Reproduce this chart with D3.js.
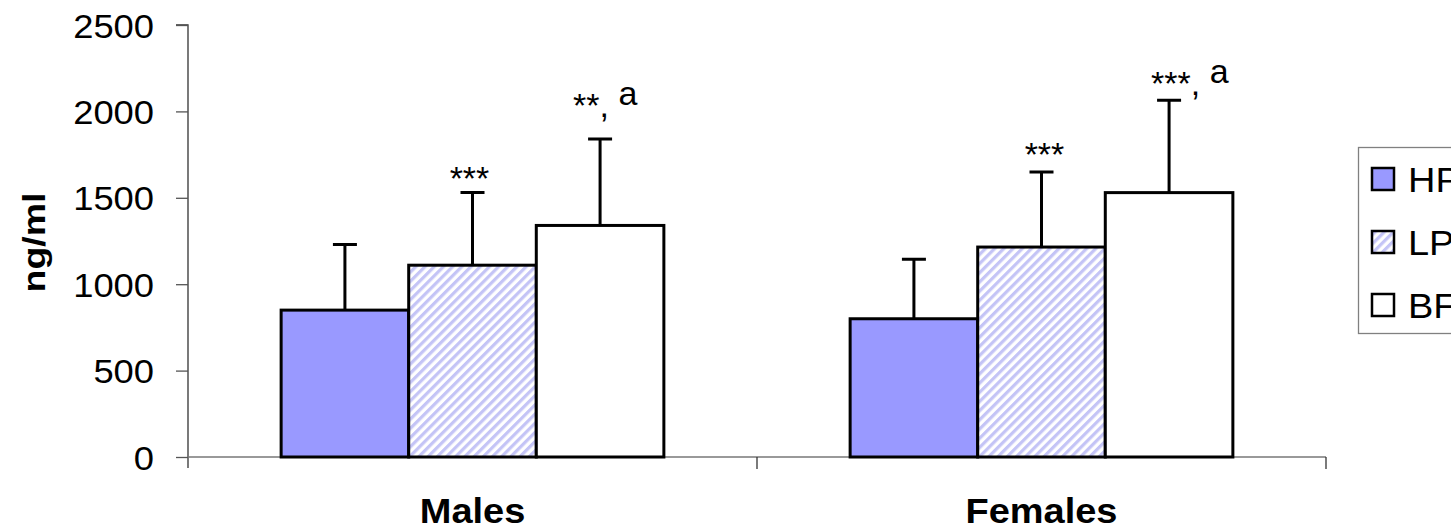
<!DOCTYPE html>
<html>
<head>
<meta charset="utf-8">
<script src="https://cdn.jsdelivr.net/npm/d3@7"></script>
<style>
  html, body { margin: 0; padding: 0; background: #fff; }
  svg { display: block; font-family: "Liberation Sans", Arial, sans-serif; }
</style>
</head>
<body>
<svg id="chart" width="1451" height="531"></svg>
<script>
// Plasma concentration (ng/ml) by sex and diet group, mean + SD
const categories = ["Males", "Females"];
const series = ["HP", "LP", "BF"];
const hpMean = [850, 800];
const lpMean = [1110, 1215];
const bfMean = [1340, 1530];
const hpSD = [380, 345];
const lpSD = [420, 435];
const bfSD = [500, 535];
const yTicks = [0, 500, 1000, 1500, 2000, 2500];
// significance marks: [category][series]
const marksMales = ["", "***", "**, a"];
const marksFemales = ["", "***", "***, a"];

const means = [hpMean, lpMean, bfMean];
const sds = [hpSD, lpSD, bfSD];
const marks = [marksMales, marksFemales];

const svg = d3.select("#chart");
const plotLeft = 188, plotRight = 1326, plotTop = 25, plotBottom = 457;
const SX = 1.085; // slightly wide lettering

const x0 = d3.scaleBand().domain(categories).range([plotLeft, plotRight]).padding(0);
const x1 = d3.scaleBand().domain(series).range([0, x0.bandwidth()])
  .paddingInner(0).paddingOuter(0.73);
const y = d3.scaleLinear().domain([0, 2500]).range([plotBottom, plotTop]);

// diagonal hatching for LP
const defs = svg.append("defs");
defs.append("pattern")
  .attr("id", "hatch")
  .attr("patternUnits", "userSpaceOnUse")
  .attr("width", 6.5).attr("height", 6.5)
  .attr("patternTransform", "rotate(45)")
  .call(p => {
    p.append("rect").attr("width", 6.5).attr("height", 6.5).attr("fill", "#fff");
    p.append("rect").attr("width", 3.2).attr("height", 6.5).attr("fill", "#c4c4f6");
  });

const fills = { HP: "#9999ff", LP: "url(#hatch)", BF: "#ffffff" };

// axes
const yAxis = d3.axisLeft(y).tickValues(yTicks).tickFormat(d3.format("d"))
  .tickSize(12).tickPadding(22);
const gy = svg.append("g").attr("transform", `translate(${plotLeft},0)`).call(yAxis);
gy.select(".domain").attr("stroke", "#333").attr("stroke-width", 1.3)
  .attr("d", `M-12,${plotTop}H0V${plotBottom + 11}`);
gy.selectAll(".tick line").attr("stroke", "#555").attr("stroke-width", 1.3);
gy.selectAll(".tick text")
  .attr("font-size", 33.5).attr("fill", "#000")
  .attr("font-family", "Liberation Sans, Arial, sans-serif")
  .attr("dy", "0.36em")
  .attr("x", -34 / SX)
  .attr("transform", `scale(${SX},1)`);

const gx = svg.append("g").attr("transform", `translate(0,${plotBottom})`);
gx.append("line").attr("x1", plotLeft).attr("x2", plotRight).attr("stroke", "#777").attr("stroke-width", 1.3);
const edges = categories.map(c => x0(c) + x0.bandwidth());
gx.selectAll("line.edge").data(edges).join("line").attr("class", "edge")
  .attr("x1", d => d).attr("x2", d => d).attr("y1", 0).attr("y2", 12)
  .attr("stroke", "#333").attr("stroke-width", 1.3);
gx.selectAll("text").data(categories).join("text")
  .attr("transform", d => `translate(${x0(d) + x0.bandwidth() / 2},66) scale(${SX},1)`)
  .attr("text-anchor", "middle")
  .attr("font-size", 35).attr("font-weight", "bold")
  .text(d => d);

// y title
svg.append("text")
  .attr("transform", `translate(45,242.5) rotate(-90)`)
  .attr("text-anchor", "middle")
  .attr("font-size", 31).attr("font-weight", "bold")
  .attr("textLength", 100).attr("lengthAdjust", "spacingAndGlyphs")
  .text("ng/ml");

// bars
const rows = [];
categories.forEach((c, ci) => series.forEach((s, si) => rows.push({
  c, s, v: means[si][ci], sd: sds[si][ci], mark: marks[ci][si]
})));

const groups = svg.append("g");
const cap = 12;
// error bars drawn first so the bar outline sits on top
groups.selectAll("path.err").data(rows).join("path").attr("class", "err")
  .attr("d", d => {
    const cx = x0(d.c) + x1(d.s) + x1.bandwidth() / 2;
    return `M${cx},${y(d.v)}V${y(d.v + d.sd)}M${cx - cap},${y(d.v + d.sd)}H${cx + cap}`;
  })
  .attr("stroke", "#000").attr("stroke-width", 3).attr("fill", "none");

groups.selectAll("rect.bar").data(rows).join("rect").attr("class", "bar")
  .attr("x", d => x0(d.c) + x1(d.s))
  .attr("y", d => y(d.v))
  .attr("width", x1.bandwidth())
  .attr("height", d => y(0) - y(d.v))
  .attr("fill", d => fills[d.s])
  .attr("stroke", "#000").attr("stroke-width", 3);

// significance labels, placed relative to the top of each error bar
const markOffset = {
  "Males-LP": [-3, -3, "middle"],
  "Females-LP": [3, -6, "middle"],
  "Males-BF": [-27, -22, "start"],
  "Females-BF": [-18, -5, "start"]
};
rows.filter(d => d.mark).forEach(d => {
  const [dx, dy, anchor] = markOffset[`${d.c}-${d.s}`];
  const cx = x0(d.c) + x1(d.s) + x1.bandwidth() / 2;
  const t = svg.append("text")
    .attr("x", cx + dx).attr("y", y(d.v + d.sd) + dy)
    .attr("text-anchor", anchor)
    .attr("font-size", 34);
  const parts = d.mark.split(", ");
  t.append("tspan").text(parts[0] + (parts.length > 1 ? "," : ""));
  if (parts.length > 1) {
    t.append("tspan").attr("dy", -12).text("\u00a0" + parts[1]);
  }
});

// legend (frame runs past the right edge of the page)
const lg = svg.append("g");
lg.append("rect").attr("x", 1358.5).attr("y", 147.5).attr("width", 120).attr("height", 186)
  .attr("fill", "#fff").attr("stroke", "#808080").attr("stroke-width", 1.3);
const item = lg.selectAll("g.item").data(series).join("g").attr("class", "item")
  .attr("transform", (d, i) => `translate(1372,${179 + i * 63})`);
item.append("rect").attr("x", 0).attr("y", -11).attr("width", 22).attr("height", 22)
  .attr("fill", d => d === "LP" ? "url(#hatch)" : fills[d])
  .attr("stroke", "#000").attr("stroke-width", 2.5);
item.append("text")
  .attr("transform", `translate(36,12.5) scale(${SX},1)`)
  .attr("font-size", 35).text(d => d);
</script>
</body>
</html>
